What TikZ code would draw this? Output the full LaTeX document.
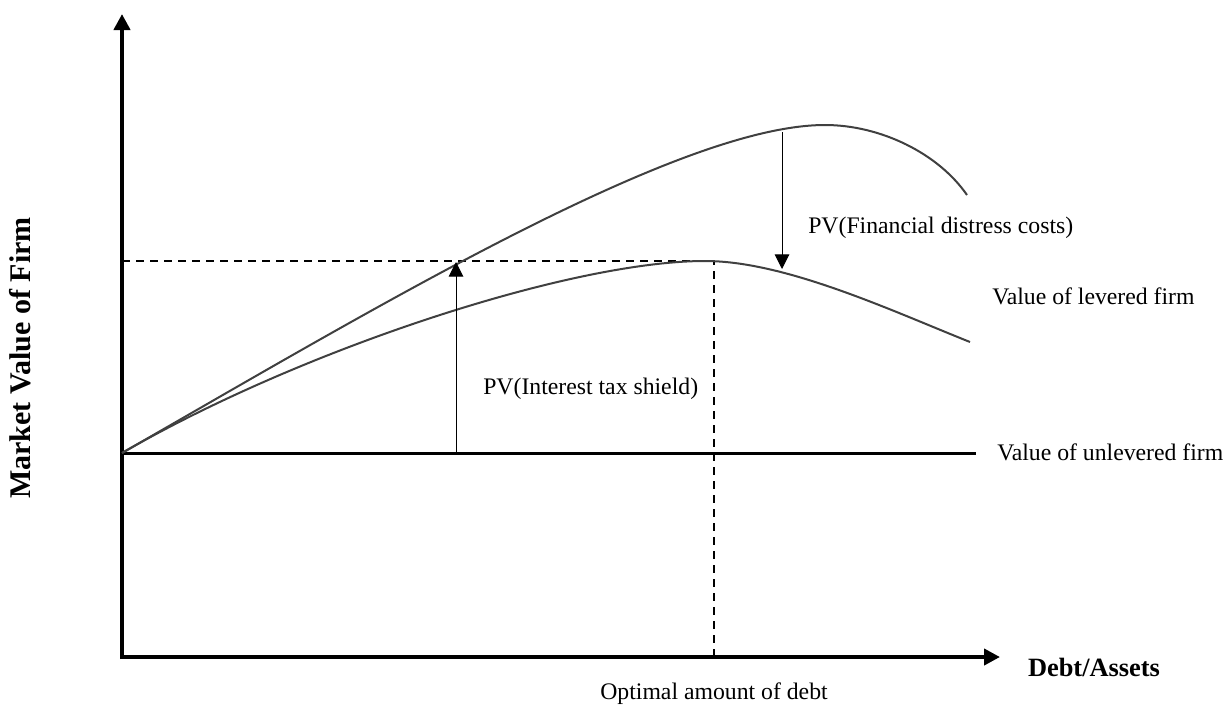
\documentclass[tikz,border=0pt]{standalone}
\usepackage{fontspec}
\setmainfont{Liberation Serif}
\usetikzlibrary{arrows.meta}
\begin{document}
\begin{tikzpicture}[x=0.75pt,y=-0.75pt,
 axis/.style={line width=3pt,-{Triangle[length=12pt,width=12pt]}},
 curve/.style={line width=1.5pt,draw=black!75},
 guide/.style={line width=1.5pt,dash pattern=on 6pt off 4.5pt},
 pvarrow/.style={line width=0.75pt,-{Triangle[length=11pt,width=11pt]}},
 lbl/.style={font=\fontsize{17.8}{21}\selectfont,inner sep=0pt},
 axlbl/.style={font=\fontsize{19.8}{23}\selectfont\bfseries,inner sep=0pt}]
\useasboundingbox (0,0) rectangle (1228,704);
% coordinates
\coordinate (O) at (122,453);
\coordinate (ybot) at (122,659);
\coordinate (ytop) at (122,14);
\coordinate (xleft) at (120,657);
\coordinate (xright) at (1000,657);
\coordinate (uend) at (976,453);
\coordinate (dL) at (122,261);
\coordinate (dC) at (714,261);
\coordinate (dB) at (714,657);
\coordinate (itsB) at (456,453);
\coordinate (itsT) at (456,262);
\coordinate (fdT) at (782,132);
\coordinate (fdB) at (782,269);
\coordinate (upk) at (825,125);
\coordinate (uen) at (967,195);
\coordinate (lpk) at (705,261);
\coordinate (len) at (970,342);
% axes
\draw[axis] (ybot) -- (ytop);
\draw[axis] (xleft) -- (xright);
% unlevered line
\draw[line width=2.25pt] (O) -- (uend);
% dashed guides
\draw[guide] (dL) -- (dC) -- (dB);
% curves
\draw[curve] (O) .. controls (380,305) and (680,125) .. (upk)
  .. controls (880,125) and (938,153) .. (uen);
\draw[curve] (O) .. controls (300,350) and (570,261) .. (lpk)
  .. controls (785,261) and (890,310) .. (len);
% arrows
\draw[pvarrow] (itsB) -- (itsT);
\draw[pvarrow] (fdT) -- (fdB);
% labels
\node[lbl,anchor=west] (fd) at (808,228) {PV(Financial distress costs)};
\node[lbl,anchor=west] (lev) at (992,296) {Value of levered firm};
\node[lbl,anchor=west] (its) at (483,389) {PV(Interest tax shield)};
\node[lbl,anchor=west] (unlev) at (997,452) {Value of unlevered firm};
\node[lbl,anchor=base] (opt) at (714,699) {Optimal amount of debt};
\node[axlbl] (xl) at (1094,667) {Debt/Assets};
\node[axlbl,font=\fontsize{22.5}{26}\selectfont\bfseries,rotate=90] (yl) at (20,358) {Market Value of Firm};
\end{tikzpicture}
\end{document}
